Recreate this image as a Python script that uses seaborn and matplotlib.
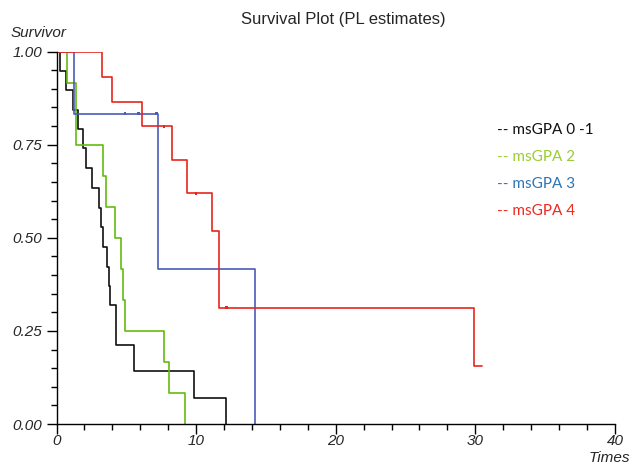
import pandas as pd
import matplotlib
matplotlib.use("Agg")
import matplotlib.pyplot as plt
from matplotlib.ticker import MultipleLocator, FormatStrFormatter
import seaborn as sns

# step curves: time of each drop and survival after it
black_t = [0, 0.25, 0.68, 1.18, 1.56, 1.92, 2.09, 2.52, 3.07, 3.16, 3.31, 3.64, 3.74, 3.86, 4.26, 5.55, 9.85, 12.12]
black_s = [1.0, 0.949, 0.897, 0.842, 0.793, 0.742, 0.688, 0.634, 0.580, 0.529, 0.475, 0.422, 0.370, 0.319, 0.212, 0.143, 0.071, 0.0]

green_t = [0, 0.73, 1.40, 3.35, 3.55, 4.21, 4.62, 4.74, 4.91, 7.72, 8.06, 9.20]
green_s = [1.0, 0.917, 0.75, 0.667, 0.583, 0.50, 0.417, 0.333, 0.25, 0.167, 0.083, 0.0]

blue_t = [0, 1.28, 7.29, 14.22]
blue_s = [1.0, 0.833, 0.417, 0.0]

red_t = [0, 3.24, 3.95, 6.12, 8.25, 9.35, 11.12, 11.62, 29.9, 30.45]
red_s = [1.0, 0.933, 0.866, 0.799, 0.710, 0.620, 0.518, 0.312, 0.155, 0.155]

# censored observations
cens_t = [4.90, 5.86, 7.15, 7.70, 10.0, 12.2]
cens_s = [0.833, 0.833, 0.833, 0.799, 0.620, 0.312]
cens_g = ["msGPA 3", "msGPA 3", "msGPA 3", "msGPA 4", "msGPA 4", "msGPA 4"]

groups = ["msGPA 0-1", "msGPA 2", "msGPA 3", "msGPA 4"]
legend_labels = ["-- msGPA 0 -1", "-- msGPA 2", "-- msGPA 3", "-- msGPA 4"]
line_colors = ["#111111", "#62bb10", "#4b5cb8", "#e8261c"]
text_colors = ["#111111", "#9acd32", "#2e75b6", "#f0281e"]

frames = []
for g, t, s in zip(groups, [black_t, green_t, blue_t, red_t], [black_s, green_s, blue_s, red_s]):
    frames.append(pd.DataFrame({"time": t, "surv": s, "group": g}))
df = pd.concat(frames, ignore_index=True)
cens = pd.DataFrame({"time": cens_t, "surv": cens_s, "group": cens_g})

sns.set_style("ticks")
plt.rcParams["font.family"] = ["Liberation Sans", "DejaVu Sans"]

fig = plt.figure(figsize=(6.32, 4.65), dpi=100)
ax = fig.add_axes([0.0894, 0.088, 0.8836, 0.801])

palette = dict(zip(groups, line_colors))
sns.lineplot(data=df, x="time", y="surv", hue="group", palette=palette,
             estimator=None, sort=False, drawstyle="steps-post",
             linewidth=1.2, legend=False, ax=ax)
sns.scatterplot(data=cens, x="time", y="surv", hue="group", palette=palette,
                marker="s", s=4, linewidth=0, legend=False, ax=ax)

ax.set_xlim(0, 40)
ax.set_ylim(0, 1)
ax.xaxis.set_major_locator(MultipleLocator(10))
ax.xaxis.set_minor_locator(MultipleLocator(2))
ax.yaxis.set_major_locator(MultipleLocator(0.25))
ax.yaxis.set_minor_locator(MultipleLocator(0.05))
ax.yaxis.set_major_formatter(FormatStrFormatter("%.2f"))
ax.tick_params(which="major", length=7, width=1, color="black", labelsize=11, direction="out")
ax.tick_params(which="minor", length=4, width=1, color="black", direction="out")
ax.tick_params(axis="x", which="major", pad=0.5)
for lab in ax.get_xticklabels() + ax.get_yticklabels():
    lab.set_fontstyle("italic")
ax.set_xlabel("")
ax.set_ylabel("")
sns.despine(ax=ax)
for sp in ["left", "bottom"]:
    ax.spines[sp].set_color("black")
    ax.spines[sp].set_linewidth(1.0)

fig.text(0.543, 0.957, "Survival Plot (PL estimates)", ha="center", va="center", fontsize=12)
fig.text(0.016, 0.929, "Survivor", ha="left", va="center", fontsize=11, fontstyle="italic")
fig.text(0.997, 0.015, "Times", ha="right", va="center", fontsize=11, fontstyle="italic")

ys = [0.720, 0.662, 0.604, 0.547]
for lab, c, y in zip(legend_labels, text_colors, ys):
    fig.text(0.786, y, lab, ha="left", va="center", fontsize=11, color=c,
             family=["Lato", "DejaVu Sans"])

fig.savefig("out.png", dpi=100)
